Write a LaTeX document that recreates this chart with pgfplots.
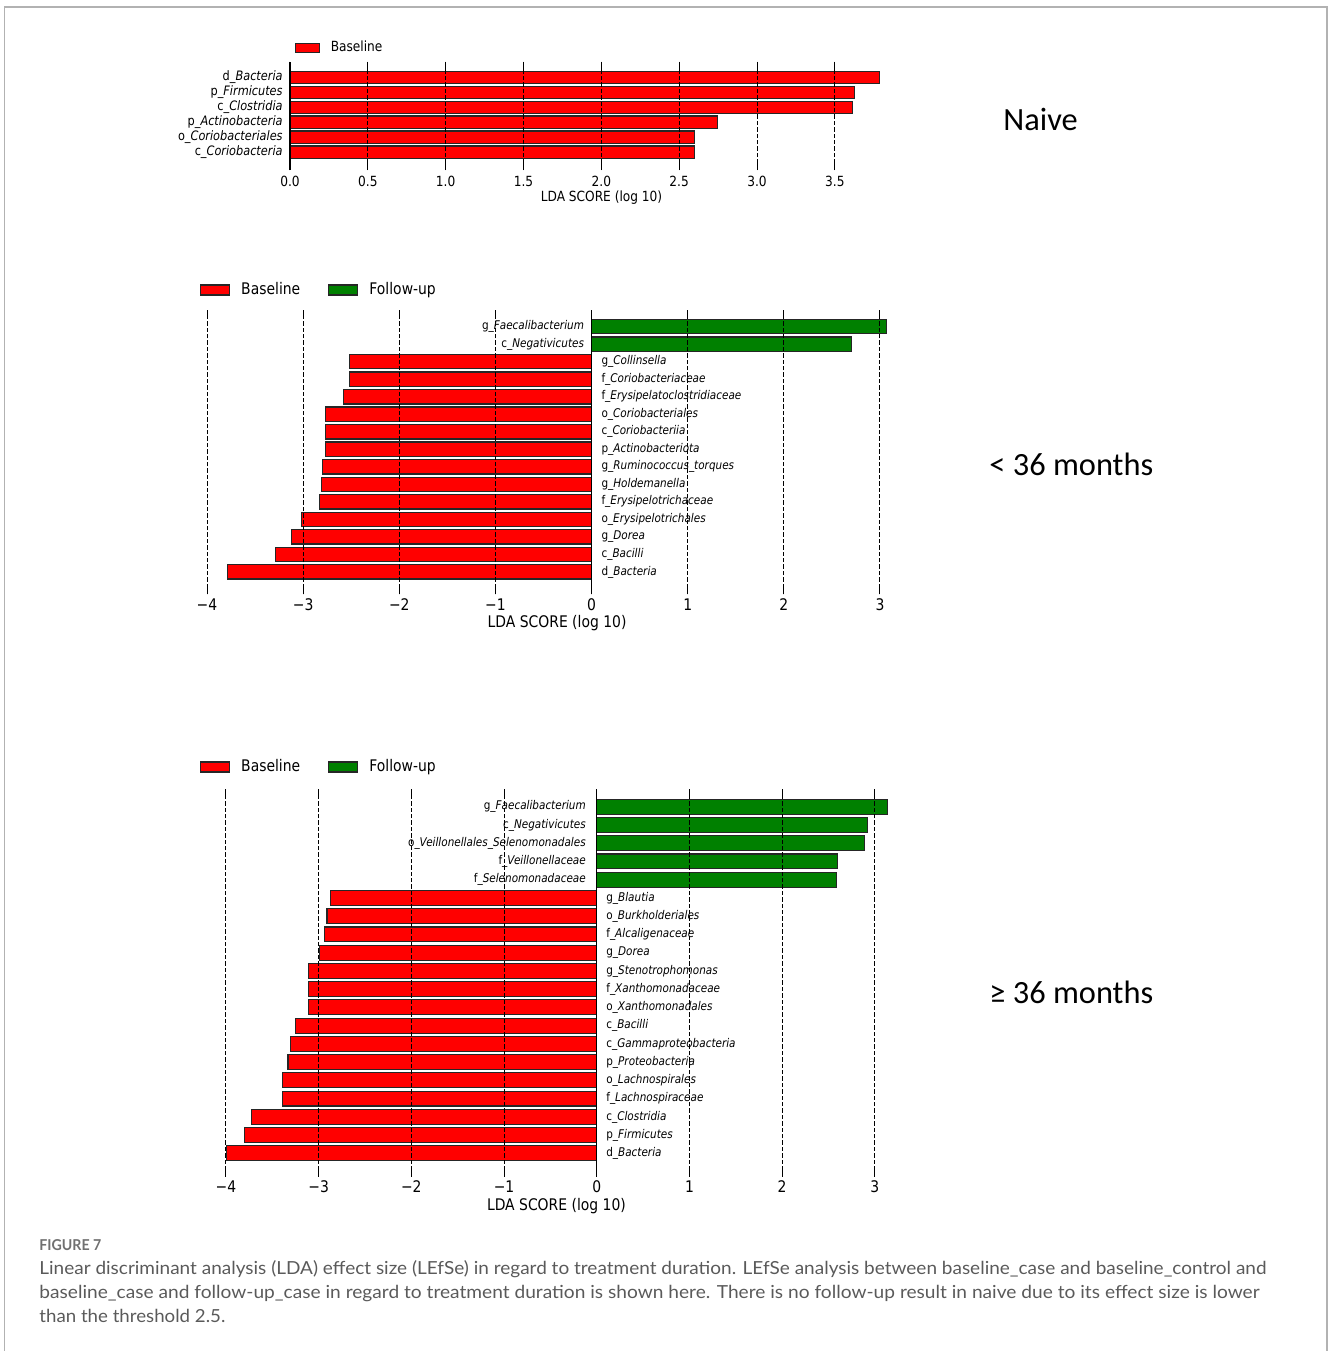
\documentclass[border=0pt]{standalone}
\usepackage{fontspec}
\usepackage{graphicx}
\usepackage{pgfplots}
\pgfplotsset{compat=1.18}

\setmainfont{DejaVu Sans}[FakeStretch=0.87]
\newfontfamily\capfont{Lato}
\newfontfamily\panelfont{Carlito}

\definecolor{lefsered}{HTML}{FF0000}
\definecolor{lefsegreen}{HTML}{008000}
\definecolor{capgray}{HTML}{5A5A5A}
\definecolor{figgray}{HTML}{707070}

% text sizes
\newcommand\txA{\fontsize{7}{8.4}\selectfont}
\newcommand\lblA{\fontsize{6.5}{7.8}\selectfont}
\newcommand\txB{\fontsize{8}{9.6}\selectfont}
\newcommand\lblB{\fontsize{6}{7.2}\selectfont}

\pgfplotsset{
  lefse/.style={
    scale only axis,
    axis on top,
    axis line style={draw=none},
    ytick=\empty,
    tick align=inside,
    xtick pos=both,
    major tick length=4.5pt,
    tick style={black, line width=0.5pt},
    xmajorgrids,
    major grid style={black, line width=0.5pt, dash pattern=on 2.2pt off 1pt},
    extra x tick style={xmajorgrids=true, major grid style={solid, black, line width=0.6pt}},
    legend cell align=left,
    legend columns=2,
    legend style={draw=none, fill=none, inner sep=0pt, outer sep=0pt,
      row sep=0pt, nodes={inner sep=0pt},
      /tikz/every odd column/.append style={column sep=5.5pt},
      /tikz/every even column/.append style={column sep=14pt}},
  },
  redbar/.style={xbar, bar width=0.82, bar shift=0pt, fill=lefsered,
    draw=black!85, line width=0.6pt},
  greenbar/.style={xbar, bar width=0.82, bar shift=0pt, fill=lefsegreen,
    draw=black!85, line width=0.6pt},
  names/.style 2 args={draw=none, forget plot, point meta=explicit symbolic,
    nodes near coords, nodes near coords align={anchor=#1},
    every node near coord/.append style={inner sep=0pt, xshift=#2}},
}

\begin{document}
\begin{tikzpicture}
\useasboundingbox (0,0) rectangle (664pt,-675.5pt);
\draw[black!30, line width=0.75pt] (2.25pt,-675.5pt) -- (2.25pt,-3.5pt) -- (663.5pt,-3.5pt) -- (663.5pt,-675.5pt);

% ---------------- Naive ----------------
\begin{axis}[lefse,
  at={(145pt,-30.85pt)}, anchor=north west,
  width=295pt, height=54.15pt,
  xmin=0, xmax=3.79, ymin=-1.2, ymax=6.05,
  xtick={0.5,1,1.5,2,2.5,3,3.5},
  xticklabels={0.5,1.0,1.5,2.0,2.5,3.0,3.5},
  extra x ticks={0}, extra x tick labels={0.0},
  xticklabel style={font=\txA, anchor=center, yshift=-5.85pt},
  xlabel={LDA SCORE (log 10)},
  xlabel style={font=\txA, anchor=center, at={(axis description cs:0.528,0)}, yshift=-14pt},
  legend style={font=\txA, at={(axis description cs:0,1)}, anchor=west, xshift=2.3pt, yshift=6.85pt},
]
\addplot[redbar, legend image code/.code={\draw[fill=lefsered, draw=black!85, line width=0.6pt] (0pt,-2.25pt) rectangle (12pt,2.25pt);}]
  coordinates {(3.786,5) (3.624,4) (3.612,3) (2.746,2) (2.596,1) (2.596,0)};
\addlegendentry{Baseline}
\addplot[names={east}{-3.5pt}, every node near coord/.append style={font=\lblA}]
  coordinates {
    (0,5) [d\_\textit{Bacteria}]
    (0,4) [p\_\textit{Firmicutes}]
    (0,3) [c\_\textit{Clostridia}]
    (0,2) [p\_\textit{Actinobacteria}]
    (0,1) [o\_\textit{Coriobacteriales}]
    (0,0) [c\_\textit{Coriobacteria}]
  };
\end{axis}

% ---------------- < 36 months ----------------
\begin{axis}[lefse,
  at={(103.02pt,-155pt)}, anchor=north west,
  width=340.8pt, height=142.15pt,
  xmin=-4.01, xmax=3.08, ymin=-1.28, ymax=14.95,
  xtick={-4,-3,-2,-1,1,2,3},
  xticklabels={−4,−3,−2,−1,1,2,3},
  extra x ticks={0}, extra x tick labels={0},
  xticklabel style={font=\txB, anchor=center, yshift=-5pt},
  xlabel={LDA SCORE (log 10)},
  xlabel style={font=\txB, anchor=center, at={(axis description cs:0.515,0)}, yshift=-14.35pt},
  legend style={font=\txB, at={(axis description cs:0,1)}, anchor=west, xshift=-3pt, yshift=10pt},
]
\addplot[redbar, legend image code/.code={\draw[fill=lefsered, draw=black!85, line width=0.6pt] (0pt,-2.5pt) rectangle (14.5pt,2.5pt);}]
  coordinates {(-2.52,12) (-2.52,11) (-2.58,10) (-2.77,9) (-2.77,8) (-2.77,7)
               (-2.80,6) (-2.81,5) (-2.83,4) (-3.02,3) (-3.12,2) (-3.29,1) (-3.79,0)};
\addlegendentry{Baseline}
\addplot[greenbar, legend image code/.code={\draw[fill=lefsegreen, draw=black!85, line width=0.6pt] (0pt,-2.5pt) rectangle (14.5pt,2.5pt);}]
  coordinates {(3.07,14) (2.70,13)};
\addlegendentry{Follow-up}
\addplot[names={east}{-3.6pt}, every node near coord/.append style={font=\lblB}]
  coordinates {
    (0,14) [g\_\textit{Faecalibacterium}]
    (0,13) [c\_\textit{Negativicutes}]
  };
\addplot[names={west}{4.8pt}, every node near coord/.append style={font=\lblB}]
  coordinates {
    (0,12) [g\_\textit{Collinsella}]
    (0,11) [f\_\textit{Coriobacteriaceae}]
    (0,10) [f\_\textit{Erysipelatoclostridiaceae}]
    (0,9)  [o\_\textit{Coriobacteriales}]
    (0,8)  [c\_\textit{Coriobacteriia}]
    (0,7)  [p\_\textit{Actinobacteriota}]
    (0,6)  [g\_\textit{Ruminococcus\_torques}]
    (0,5)  [g\_\textit{Holdemanella}]
    (0,4)  [f\_\textit{Erysipelotrichaceae}]
    (0,3)  [o\_\textit{Erysipelotrichales}]
    (0,2)  [g\_\textit{Dorea}]
    (0,1)  [c\_\textit{Bacilli}]
    (0,0)  [d\_\textit{Bacteria}]
  };
\end{axis}

% ---------------- >= 36 months ----------------
\begin{axis}[lefse,
  at={(112.5pt,-394.65pt)}, anchor=north west,
  width=331.4pt, height=193.7pt,
  xmin=-4.01, xmax=3.14, ymin=-1.28, ymax=19.95,
  xtick={-4,-3,-2,-1,1,2,3},
  xticklabels={−4,−3,−2,−1,1,2,3},
  extra x ticks={0}, extra x tick labels={0},
  xticklabel style={font=\txB, anchor=center, yshift=-5pt},
  xlabel={LDA SCORE (log 10)},
  xlabel style={font=\txB, anchor=center, at={(axis description cs:0.5,0)}, yshift=-14.65pt},
  legend style={font=\txB, at={(axis description cs:0,1)}, anchor=west, xshift=-12.5pt, yshift=11.15pt},
]
\addplot[redbar, legend image code/.code={\draw[fill=lefsered, draw=black!85, line width=0.6pt] (0pt,-2.5pt) rectangle (14.5pt,2.5pt);}]
  coordinates {(-2.87,14) (-2.91,13) (-2.94,12) (-2.99,11) (-3.11,10) (-3.11,9)
               (-3.11,8) (-3.25,7) (-3.30,6) (-3.33,5) (-3.39,4) (-3.39,3)
               (-3.72,2) (-3.80,1) (-3.99,0)};
\addlegendentry{Baseline}
\addplot[greenbar, legend image code/.code={\draw[fill=lefsegreen, draw=black!85, line width=0.6pt] (0pt,-2.5pt) rectangle (14.5pt,2.5pt);}]
  coordinates {(3.14,19) (2.92,18) (2.89,17) (2.60,16) (2.59,15)};
\addlegendentry{Follow-up}
\addplot[names={east}{-5.3pt}, every node near coord/.append style={font=\lblB}]
  coordinates {
    (0,19) [g\_\textit{Faecalibacterium}]
    (0,18) [c\_\textit{Negativicutes}]
    (0,17) [o\_\textit{Veillonellales\_Selenomonadales}]
    (0,16) [f\_\textit{Veillonellaceae}]
    (0,15) [f\_\textit{Selenomonadaceae}]
  };
\addplot[names={west}{4.6pt}, every node near coord/.append style={font=\lblB}]
  coordinates {
    (0,14) [g\_\textit{Blautia}]
    (0,13) [o\_\textit{Burkholderiales}]
    (0,12) [f\_\textit{Alcaligenaceae}]
    (0,11) [g\_\textit{Dorea}]
    (0,10) [g\_\textit{Stenotrophomonas}]
    (0,9)  [f\_\textit{Xanthomonadaceae}]
    (0,8)  [o\_\textit{Xanthomonadales}]
    (0,7)  [c\_\textit{Bacilli}]
    (0,6)  [c\_\textit{Gammaproteobacteria}]
    (0,5)  [p\_\textit{Proteobacteria}]
    (0,4)  [o\_\textit{Lachnospirales}]
    (0,3)  [f\_\textit{Lachnospiraceae}]
    (0,2)  [c\_\textit{Clostridia}]
    (0,1)  [p\_\textit{Firmicutes}]
    (0,0)  [d\_\textit{Bacteria}]
  };
\end{axis}

% panel titles
\node[anchor=base west, inner sep=0pt, font=\panelfont\fontsize{16.2}{19}\selectfont] at (501.5pt,-65pt) {Naive};
\node[anchor=base west, inner sep=0pt, font=\panelfont\fontsize{16.2}{19}\selectfont] at (494.5pt,-237.5pt) {< 36 months};
\node[anchor=base west, inner sep=0pt, font=\panelfont\fontsize{16.2}{19}\selectfont] at (494.5pt,-501.5pt) {≥ 36 months};

% caption
\node[anchor=base west, inner sep=0pt, text=figgray] at (19.5pt,-625.25pt)
  {\resizebox{31pt}{\height}{\capfont\bfseries\fontsize{7.5}{9}\selectfont FIGURE 7}};
\node[anchor=base west, inner sep=0pt, text=capgray] at (19.5pt,-637pt)
  {\resizebox{613.5pt}{\height}{\capfont\fontsize{9}{11}\selectfont Linear discriminant analysis (LDA) effect size (LEfSe) in regard to treatment duration. LEfSe analysis between baseline\_case and baseline\_control and}};
\node[anchor=base west, inner sep=0pt, text=capgray] at (19.5pt,-649pt)
  {\resizebox{610pt}{\height}{\capfont\fontsize{9}{11}\selectfont baseline\_case and follow-up\_case in regard to treatment duration is shown here. There is no follow-up result in naive due to its effect size is lower}};
\node[anchor=base west, inner sep=0pt, text=capgray] at (19.5pt,-661pt)
  {\resizebox{93pt}{\height}{\capfont\fontsize{9}{11}\selectfont than the threshold 2.5.}};
\end{tikzpicture}
\end{document}
